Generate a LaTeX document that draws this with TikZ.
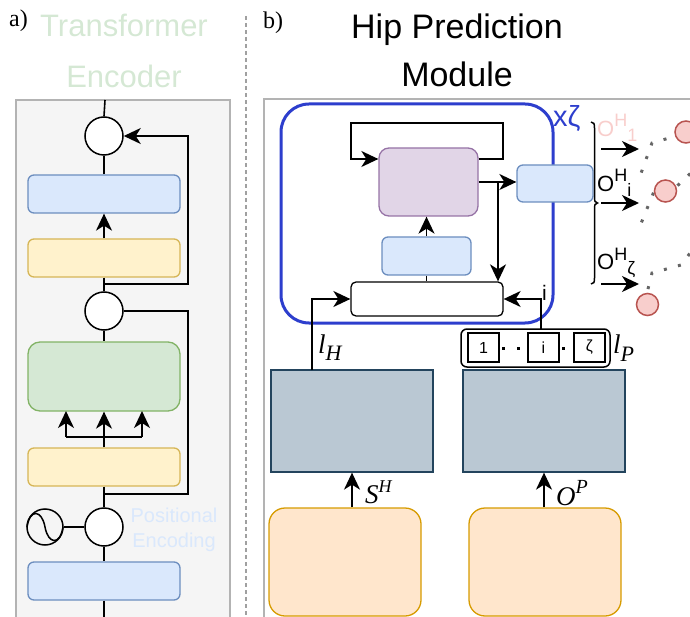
\documentclass[tikz,border=0pt]{standalone}
\usepackage{fontspec}
\setmainfont{Liberation Serif}
\setsansfont{Liberation Sans}
\usetikzlibrary{arrows.meta}
\definecolor{frameF}{HTML}{F5F5F5}
\definecolor{frameD}{HTML}{B3B3B3}
\definecolor{blueF}{HTML}{DAE8FC}
\definecolor{blueD}{HTML}{6C8EBF}
\definecolor{yelF}{HTML}{FFF2CC}
\definecolor{yelD}{HTML}{D6B656}
\definecolor{grnF}{HTML}{D5E8D4}
\definecolor{grnD}{HTML}{82B366}
\definecolor{purF}{HTML}{E1D5E7}
\definecolor{purD}{HTML}{9673A6}
\definecolor{slF}{HTML}{BAC8D3}
\definecolor{slD}{HTML}{23445D}
\definecolor{orF}{HTML}{FFE6CC}
\definecolor{orD}{HTML}{D79B00}
\definecolor{redF}{HTML}{F8CECC}
\definecolor{redD}{HTML}{B85450}
\definecolor{loopB}{RGB}{45,62,205}
\definecolor{skel}{HTML}{666666}
\definecolor{dashG}{HTML}{A0A0A0}
\newcommand{\fsz}[1]{\fontsize{#1}{#1}\selectfont}
\begin{document}
\begin{tikzpicture}[x=1pt,y=-1pt]
\tikzset{
 ln/.style={line width=1.6pt, black},
 arr/.style={ln, -{Stealth[length=17pt,width=16pt,inset=5pt]}},
 blk/.style={draw, line width=1.3pt, rounded corners=6pt, inner sep=0pt},
 sumc/.style={draw, circle, fill=white, line width=1.5pt, minimum size=38pt, inner sep=0pt},
 hip/.style={draw=redD, fill=redF, circle, line width=1.5pt, minimum size=22pt, inner sep=0pt},
 sk/.style={draw=skel, line width=3pt, dash pattern=on 3pt off 11.5pt},
 lbl/.style={inner sep=0pt, anchor=base west},
 ctr/.style={inner sep=0pt, anchor=base},
}
\useasboundingbox (0,0) rectangle (690,617);
\clip (0,0) rectangle (690,617);

% ---------- panel a ----------
\node[lbl, font=\fsz{24}] (ta) at (9,27) {a)};
\node[ctr, font=\sffamily\fsz{31}, text=grnF] (tT) at (124,37) {Transformer};
\node[ctr, font=\sffamily\fsz{31}, text=grnF] (tE) at (124,88) {Encoder};
\draw[dashG, line width=1.5pt, dash pattern=on 4pt off 3pt] (246,16) -- (246,620);

\filldraw[fill=frameF, draw=frameD, line width=1.2pt] (16,100) rectangle (230,640);

\node[sumc] (c1) at (104,136) {};
\node[blk, fill=blueF, draw=blueD, minimum width=152pt, minimum height=38pt] (bA1) at (104,194) {};
\node[blk, fill=yelF, draw=yelD, minimum width=152pt, minimum height=38pt] (yA1) at (104,258) {};
\node[sumc] (c2) at (104,311) {};
\node[blk, fill=grnF, draw=grnD, rounded corners=12pt, minimum width=152pt, minimum height=69pt] (gA) at (104,376.5) {};
\node[blk, fill=yelF, draw=yelD, minimum width=152pt, minimum height=38pt] (yA2) at (104,467) {};
\node[sumc] (c3) at (104,527) {};
\node[draw, circle, line width=1.5pt, minimum size=36pt, inner sep=0pt] (sine) at (45,527) {};
\draw[line width=1.5pt] (27,527) .. controls (30,508) and (42,510) .. (45,527) .. controls (48,544) and (60,546) .. (63,527);
\node[blk, fill=blueF, draw=blueD, minimum width=152pt, minimum height=38pt] (bA3) at (104,581) {};
\node[ctr, font=\sffamily\fsz{20}, text=blueF] (tP1) at (174,522) {Positional};
\node[ctr, font=\sffamily\fsz{20}, text=blueF] (tP2) at (174,547) {Encoding};

\coordinate (topA) at (105,100);
\coordinate (botA) at (104,625);
\coordinate (j1) at (104,284);
\coordinate (j2) at (104,494);
\coordinate (jg) at (104,437);
\draw[ln] (topA) -- (c1.north);
\draw[ln] (bA1.north) -- (c1.south);
\draw[arr] (yA1.north) -- (bA1.south);
\draw[ln] (yA1.south) -- (c2.north);
\draw[arr] (j1) -- (188,284) -- (188,136) -- (c1.east);
\draw[ln] (c2.south) -- (gA.north);
\draw[ln] (c2.east) -- (188,311) -- (188,494) -- (j2);
\draw[ln] (yA2.north) -- (jg);
\draw[ln] (66,437) -- (142,437);
\draw[arr] (66,437) -- (66,411);
\draw[arr] (jg) -- (gA.south);
\draw[arr] (142,437) -- (142,411);
\draw[ln] (yA2.south) -- (c3.north);
\draw[ln] (sine.east) -- (c3.west);
\draw[ln] (c3.south) -- (bA3.north);
\draw[ln] (bA3.south) -- (botA);

% ---------- panel b ----------
\node[lbl, font=\fsz{24}] (tb) at (263,29) {b)};
\node[ctr, font=\sffamily\fsz{34}] (tH) at (457,39) {Hip Prediction};
\node[ctr, font=\sffamily\fsz{34}] (tM) at (457,87) {Module};
\draw[frameD, line width=1.2pt] (264,99) rectangle (720,640);

\node[draw=loopB, line width=3pt, rounded corners=28pt, minimum width=272pt, minimum height=219pt, inner sep=0pt] (loop) at (417,213.5) {};
\node[lbl, font=\sffamily\fsz{29}, text=loopB] (xz) at (553,127) {xζ};

\node[blk, fill=purF, draw=purD, rounded corners=10pt, minimum width=99pt, minimum height=68pt] (pur) at (428.5,182) {};
\node[blk, fill=blueF, draw=blueD, minimum width=76pt, minimum height=37pt] (sbR) at (555,183.5) {};
\node[blk, fill=blueF, draw=blueD, minimum width=89pt, minimum height=38pt] (mb) at (426.5,256) {};
\node[blk, fill=white, draw=black, rounded corners=5pt, minimum width=152pt, minimum height=34pt] (wb) at (427,299) {};

\draw[arr] (pur.east |- 0,159) -- (503,159) -- (503,123) -- (351,123) -- (351,159) -- (pur.west |- 0,159);
\draw[arr] (pur.east) -- (sbR.west |- pur.east);
\coordinate (jb) at (498,182);
\draw[arr] (jb) -- (jb |- wb.north);
\draw[arr] (mb.north) -- (mb.north |- pur.south);
\draw[ln] (mb.south) -- (mb.south |- wb.north);

% token box
\node[draw, line width=1.5pt, rounded corners=6pt, minimum width=149pt, minimum height=38pt, inner sep=0pt] (tok) at (535.5,348) {};
\node[draw, fill=white, line width=1.8pt, minimum width=31pt, minimum height=29pt, inner sep=0pt, font=\sffamily\fsz{16}] (t1) at (483.5,347.5) {1};
\node[draw, fill=white, line width=1.8pt, minimum width=31pt, minimum height=29pt, inner sep=0pt, font=\sffamily\fsz{16}] (ti) at (543.5,347.5) {i};
\node[draw, fill=white, line width=1.8pt, minimum width=31pt, minimum height=29pt, inner sep=0pt, font=\sffamily\fsz{16}] (tz) at (589.5,347.5) {ζ};
\fill (501.6,346.6) rectangle (505.0,350.0);
\fill (516.6,346.6) rectangle (520.0,350.0);
\fill (561.6,346.6) rectangle (565.0,350.0);

% encoders
\node[draw=slD, fill=slF, line width=1.3pt, minimum width=162pt, minimum height=102pt, inner sep=0pt] (slL) at (352,421) {};
\node[draw=slD, fill=slF, line width=1.3pt, minimum width=162pt, minimum height=102pt, inner sep=0pt] (slR) at (544,421) {};
\node[blk, fill=orF, draw=orD, rounded corners=16pt, minimum width=152pt, minimum height=108pt] (oL) at (345,562) {};
\node[blk, fill=orF, draw=orD, rounded corners=16pt, minimum width=152pt, minimum height=108pt] (oR) at (545,562) {};

\coordinate (lHtop) at (312,370);
\draw[arr] (lHtop) -- (312,299) -- (wb.west);
\coordinate (iTop) at (541,329);
\draw[arr] (iTop) -- (541,299) -- (wb.east);
\node[lbl, font=\sffamily\fsz{21}] (tiL) at (542,301) {i};

\draw[arr] (slL.south |- oL.north) -- (slL.south);
\draw[arr] (slR.south |- oR.north) -- (slR.south);

\node[lbl, font=\fsz{27}\itshape] (lH) at (318,353) {l\raisebox{-7pt}{\fsz{22}H}};
\node[lbl, font=\fsz{27}\itshape] (lP) at (613,353) {l\raisebox{-8pt}{\fsz{22}P}};
\node[lbl, font=\fsz{27}\itshape] (SH) at (365,503) {S\raisebox{11pt}{\fsz{18}H}};
\node[lbl, font=\fsz{27}\itshape] (OP) at (556,505) {O\raisebox{12pt}{\fsz{20}P}};

% brace, outputs
\draw[line width=1.5pt] (591,122) .. controls (594,122) and (594.5,124) .. (594.5,128) -- (594.5,197) .. controls (594.5,201) and (595,203) .. (597.5,203) .. controls (595,203) and (594.5,205) .. (594.5,209) -- (594.5,278) .. controls (594.5,282) and (594,284) .. (591,284);
\coordinate (a1s) at (601,149); \coordinate (a1e) at (639,149);
\coordinate (a2s) at (601,203); \coordinate (a2e) at (639,203);
\coordinate (a3s) at (601,284); \coordinate (a3e) at (639,284);
\draw[arr] (a1s) -- (a1e);
\draw[arr] (a2s) -- (a2e);
\draw[arr] (a3s) -- (a3e);
\node[lbl, font=\sffamily\fsz{22}, text=redF] (o1) at (597,137) {O\raisebox{10pt}{\fsz{18}H}\raisebox{-5pt}{\fsz{18}1}};
\node[lbl, font=\sffamily\fsz{22}] (o2) at (597,192) {O\raisebox{10pt}{\fsz{18}H}\raisebox{-5pt}{\fsz{18}i}};
\node[lbl, font=\sffamily\fsz{22}] (o3) at (597,270) {O\raisebox{9pt}{\fsz{18}H}\raisebox{-5pt}{\fsz{18}ζ}};

% skeleton
\draw[sk, dash phase=-10pt] (676,136) -- (652,143) -- (640,176);
\draw[sk, dash phase=-4pt] (655,189) -- (640,226);
\draw[sk, dash phase=-2pt] (676,187) -- (694,170);
\draw[sk, dash phase=-4pt] (647,293) -- (652,273) -- (681,265) -- (694,248);
\node[hip] (h1) at (686,132) {};
\node[hip] (h2) at (665.5,191) {};
\node[hip] (h3) at (647.5,304.5) {};
\end{tikzpicture}
\end{document}
